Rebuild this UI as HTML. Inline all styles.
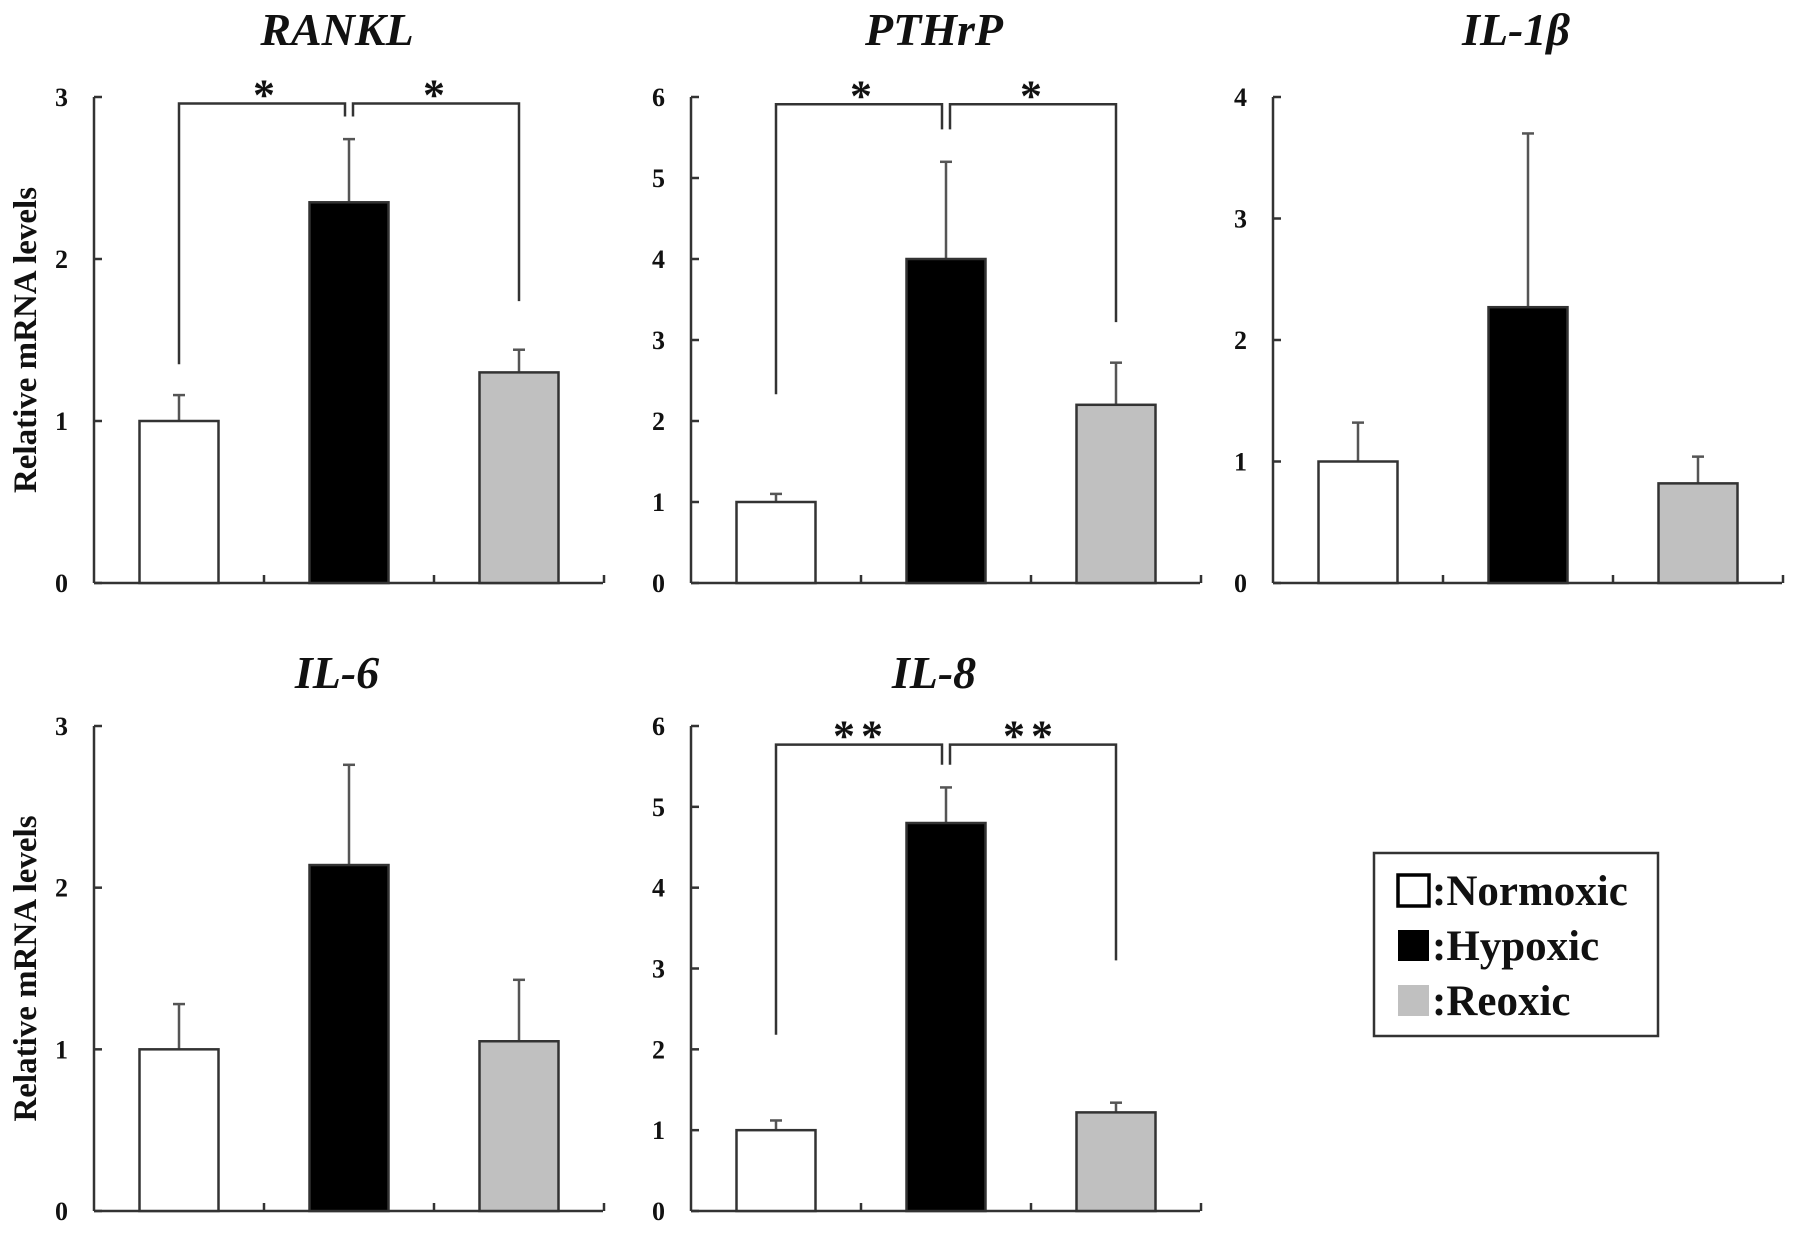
<!DOCTYPE html>
<html><head><meta charset="utf-8"><style>
html,body{margin:0;padding:0;background:#fff;}
svg{display:block;}
text{font-family:"Liberation Serif",serif;font-weight:bold;fill:#111;}
</style></head><body>
<svg id="chart" width="1795" height="1233" viewBox="0 0 1795 1233" xmlns="http://www.w3.org/2000/svg"></svg>
<script>
const panelNames = ["RANKL","PTHrP","IL-1β","IL-6","IL-8"];
const yMaxes = [3,6,4,3,6];
const normoxicVals = [1.0,1.0,1.0,1.0,1.0];
const hypoxicVals = [2.35,4.0,2.27,2.14,4.8];
const reoxicVals = [1.30,2.2,0.82,1.05,1.22];
const normoxicErr = [1.16,1.1,1.32,1.28,1.12];
const hypoxicErr = [2.74,5.2,3.70,2.76,5.24];
const reoxicErr = [1.44,2.72,1.04,1.43,1.34];
const bracketTops = [2.96,5.91,null,null,5.77];
const bracketLeft = [1.35,2.33,null,null,2.18];
const bracketMid = [2.88,5.6,null,null,5.52];
const bracketRight = [1.74,3.22,null,null,3.1];
const sigLabels = ["*","*","","","**"];
const legendLabels = [":Normoxic",":Hypoxic",":Reoxic"];

const NS="http://www.w3.org/2000/svg";
const svg=document.getElementById('chart');
const colors=["#ffffff","#000000","#c0c0c0"];
const origins=[[94,97,583],[691,97,583],[1273,97,583],[94,726,1211],[691,726,1211]];
const catW=170, barW=79, axisLen=509;
function mk(tag,attrs,parent){const e=document.createElementNS(NS,tag);for(const k in attrs)e.setAttribute(k,attrs[k]);(parent||svg).appendChild(e);return e;}

panelNames.forEach((name,p)=>{
  const [x0,yTop,yZero]=origins[p];
  const yMax=yMaxes[p];
  const y=v=>yZero-(v/yMax)*(yZero-yTop);
  const cx=i=>x0+catW*i+catW/2;
  const g=mk('g',{});
  
  
  const t=mk('text',{x:x0+243,y:p<3?yTop-52:yTop-38,'text-anchor':'middle','font-size':46,'font-style':'italic'},g);
  t.textContent=name;
  
  
  const ya=mk('line',{x1:x0,y1:yTop,x2:x0,y2:yZero,stroke:'#333','stroke-width':2.5},g);
  
  
  const xa=mk('line',{x1:x0,y1:yZero,x2:x0+axisLen,y2:yZero,stroke:'#333','stroke-width':2.5},g);
  
  
  for(let v=0;v<=yMax;v++){
    const tk=mk('line',{x1:x0,y1:y(v),x2:x0+8,y2:y(v),stroke:'#333','stroke-width':2.5},g);
    
    
    const tl=mk('text',{x:x0-26,y:y(v)+9,'text-anchor':'end','font-size':26},g);
    tl.textContent=String(v);
    
    
  }
  for(let i=1;i<=3;i++){
    const tk=mk('line',{x1:x0+catW*i,y1:yZero,x2:x0+catW*i,y2:yZero-8,stroke:'#333','stroke-width':2.5},g);
    
    
  }
  if(p===0||p===3){
    const at=mk('text',{x:0,y:0,'text-anchor':'middle','font-size':33,transform:`translate(36,${(yTop+yZero)/2}) rotate(-90)`},g);
    at.textContent='Relative mRNA levels';
    
    
  }
  const vals=[normoxicVals[p],hypoxicVals[p],reoxicVals[p]];
  const errs=[normoxicErr[p],hypoxicErr[p],reoxicErr[p]];
  const series=['normoxic','hypoxic','reoxic'];
  vals.forEach((v,i)=>{
    const e1=mk('line',{x1:cx(i),y1:y(v),x2:cx(i),y2:y(errs[i]),stroke:'#555','stroke-width':2.5},g);
    
    
    const e2=mk('line',{x1:cx(i)-6,y1:y(errs[i]),x2:cx(i)+6,y2:y(errs[i]),stroke:'#555','stroke-width':2.5},g);
    
    
    const b=mk('rect',{x:cx(i)-barW/2,y:y(v),width:barW,height:yZero-y(v),fill:colors[i],stroke:'#333','stroke-width':2.5},g);
    
    
  });
  if(bracketTops[p]!==null){
    const yt=y(bracketTops[p]);
    const l1=mk('polyline',{points:`${cx(0)},${y(bracketLeft[p])} ${cx(0)},${yt} ${cx(1)-4},${yt} ${cx(1)-4},${y(bracketMid[p])}`,fill:'none',stroke:'#333','stroke-width':2.5},g);
    
    
    const l2=mk('polyline',{points:`${cx(1)+4},${y(bracketMid[p])} ${cx(1)+4},${yt} ${cx(2)},${yt} ${cx(2)},${y(bracketRight[p])}`,fill:'none',stroke:'#333','stroke-width':2.5},g);
    
    
    [ (cx(0)+cx(1))/2, (cx(1)+cx(2))/2 ].forEach(sx=>{
      const s=mk('text',{x:sx,y:yt+6,'text-anchor':'middle','font-size':44,'letter-spacing':sigLabels[p].length>1?6:0},g);
      s.textContent=sigLabels[p];
      
      
    });
  }
});
const lg=mk('g',{});


const lb=mk('rect',{x:1374,y:853,width:284,height:183,fill:'#fff',stroke:'#333','stroke-width':2.5},lg);


legendLabels.forEach((lab,i)=>{
  const cy=890+i*55;
  const sq=mk('rect',{x:1398,y:cy-15,width:31,height:31,fill:colors[i],stroke:i===2?'none':'#000','stroke-width':i===0?3.5:0},lg);
  
  
  const tx=mk('text',{x:1432,y:cy+15,'font-size':43},lg);
  tx.textContent=lab;
  
  
});
</script>
</body></html>
